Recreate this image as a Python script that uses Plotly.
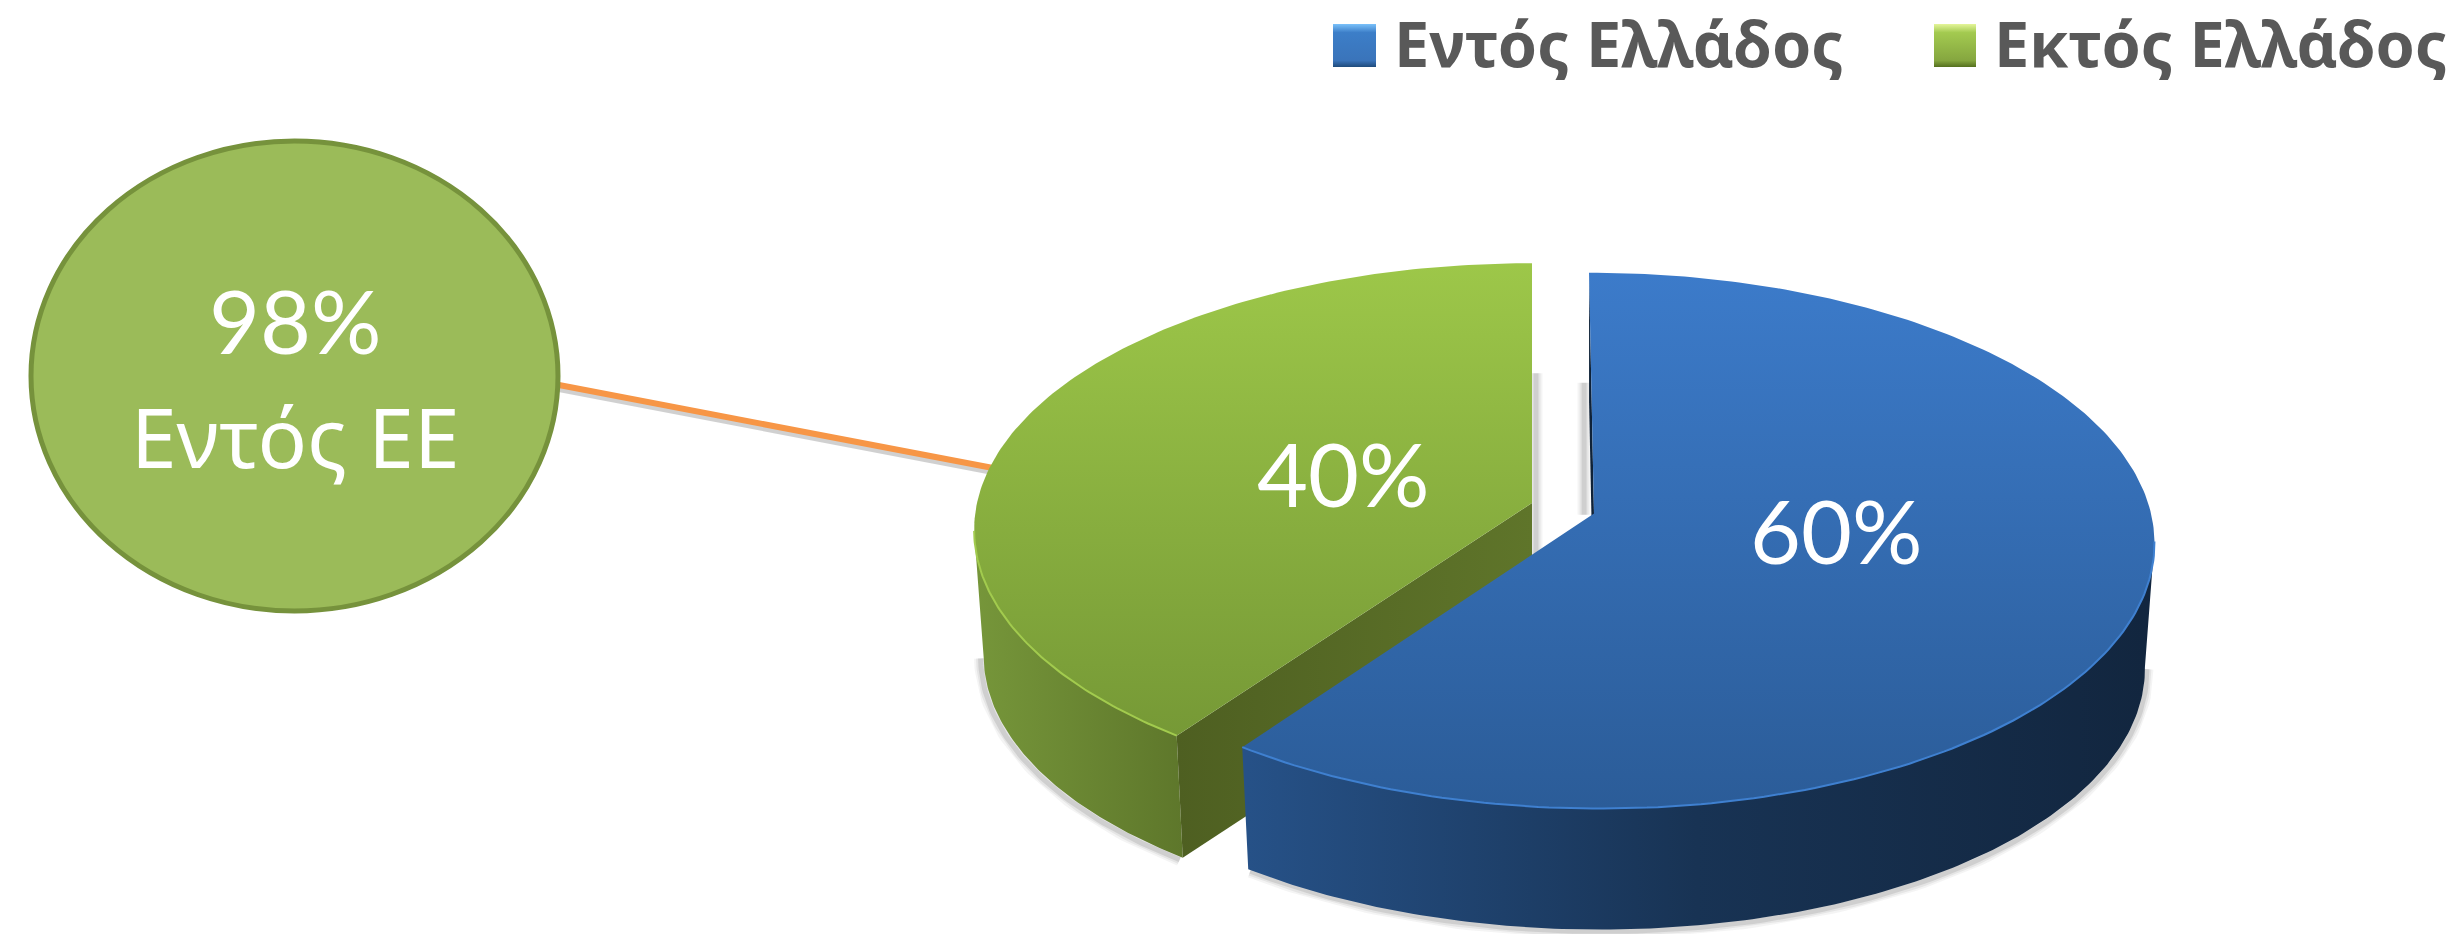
import numpy as np
import plotly.graph_objects as go

# ---- data
categories = ["Εντός Ελλάδος", "Εκτός Ελλάδος"]
shares = [60, 40]
callout_value = 98
callout_label = "Εντός ΕΕ"

# ---- styling
W, H = 2463, 934
FONT = "Noto Sans"
NUM_FONT = "Lato"
DEPTH, SHRINK, PERSP = 126.0, 0.983, 0.1012
geo = {
    "Εντός Ελλάδος": dict(cx=1594.0, cy=513.5, skew=-5.5, hs=557.0, vs=-265.2),
    "Εκτός Ελλάδος": dict(cx=1532.0, cy=503.0, skew=0.0, hs=555.0, vs=-264.0),
}
look = {
    "Εντός Ελλάδος": dict(
        top=["#3C7BCA", "#2B5C98"], side=["#265187", "#183354", "#12263F"],
        face="#0F2238", rim="#3F80D0",
        swatch=[[0, "#7AC1FA"], [.2, "#3C7EC8"], [.85, "#3A74BA"], [1, "#1F4B7C"]]),
    "Εκτός Ελλάδος": dict(
        top=["#9DC749", "#769936"], side=["#76963A", "#5E772B"],
        face=["#4E5F21", "#5F752A"], rim="#A2CB4E",
        swatch=[[0, "#E4F59A"], [.2, "#A3CA50"], [.85, "#85A63F"], [1, "#55701F"]]),
}


def rim(name, theta_deg, lower=False):
    """Perspective-projected point of the pie's rim, theta clockwise from 12 o'clock."""
    g = geo[name]
    t = np.radians(np.asarray(theta_deg, dtype=float))
    u, v = np.sin(t), np.cos(t)
    den = 1 + PERSP * v
    dx = (g["hs"] * u + g["skew"] * v) / den
    dy = (g["vs"] * v) / den
    if lower:
        return g["cx"] + SHRINK * dx, g["cy"] + DEPTH + SHRINK * dy
    return g["cx"] + dx, g["cy"] + dy


def scale(cols):
    n = len(cols) - 1
    return [[i / n, c] for i, c in enumerate(cols)]


def poly(xs, ys, **kw):
    return go.Scatter(x=list(xs), y=list(ys), mode="lines", fill="toself",
                      line=dict(width=0), hoverinfo="skip", showlegend=False, **kw)


def stroke(xs, ys, color, width):
    return go.Scatter(x=list(xs), y=list(ys), mode="lines", line=dict(color=color, width=width),
                      hoverinfo="skip", showlegend=False)


fig = go.Figure()

blue, green = categories
edges = np.cumsum([0] + shares) / sum(shares) * 360
b0, b1 = edges[0], edges[1]
g0, g1 = edges[1], edges[2]
G_TAN, B_TAN = 264.0, 96.0   # where the side wall's silhouette leaves the rim

# soft shadows under the lower edges
for width, alpha in [(13, .06), (9, .08), (5, .13)]:
    col = f"rgba(60,60,60,{alpha})"
    th = np.linspace(g0, G_TAN, 60)
    x, y = rim(green, th, True)
    fig.add_trace(stroke(x - 3, y + 2, col, width))
    th = np.linspace(B_TAN, b1, 120)
    x, y = rim(blue, th, True)
    fig.add_trace(stroke(x + 2, y + 2, col, width))
    # the shadow beside the gap
    gx, gy = rim(green, g1, True)
    fig.add_trace(stroke([gx + 4, gx + 4], [gy - 20, gy + 230], col, width))
    bx, by = rim(blue, b0, True)
    fig.add_trace(stroke([bx - 5, bx - 5], [by - 20, by + 112], col, width))

# green slice
th = np.linspace(g0, G_TAN, 80)
xt, yt = rim(green, th)
xb, yb = rim(green, th, True)
fig.add_trace(poly(np.r_[xt, xb[::-1]], np.r_[yt, yb[::-1]],
                   fillgradient=dict(type="horizontal", colorscale=scale(look[green]["side"]),
                                     start=float(xb.min()) - 8, stop=float(xb[0]))))
ax, ay = geo[green]["cx"], geo[green]["cy"]
rx, ry = rim(green, g0)
rbx, rby = rim(green, g0, True)
fig.add_trace(poly([rx, ax, ax, rbx], [ry, ay, ay + DEPTH, rby],
                   fillgradient=dict(type="horizontal", colorscale=scale(look[green]["face"]),
                                     start=float(rx), stop=float(ax))))
th = np.linspace(g0, g1, 160)
xt, yt = rim(green, th)
fig.add_trace(poly(np.r_[ax, xt], np.r_[ay, yt],
                   fillgradient=dict(type="vertical", colorscale=scale(look[green]["top"]),
                                     start=float(yt.min()), stop=float(yt.max()))))
th = np.linspace(g0, G_TAN, 80)
xt, yt = rim(green, th)
fig.add_trace(stroke(xt, yt, look[green]["rim"], 2))

# blue slice
ax, ay = geo[blue]["cx"], geo[blue]["cy"]
rx, ry = rim(blue, b0)
rbx, rby = rim(blue, b0, True)
fig.add_trace(poly([rx, rbx, ax, ax], [ry, rby, ay + DEPTH, ay], fillcolor=look[blue]["face"]))
th = np.linspace(B_TAN, b1, 160)
xt, yt = rim(blue, th)
xb, yb = rim(blue, th, True)
fig.add_trace(poly(np.r_[xt, xb[::-1]], np.r_[yt, yb[::-1]],
                   fillgradient=dict(type="horizontal", colorscale=scale(look[blue]["side"]),
                                     start=float(xb.min()), stop=float(xb.max()))))
th = np.linspace(b0, b1, 240)
xt, yt = rim(blue, th)
fig.add_trace(poly(np.r_[ax, xt], np.r_[ay, yt],
                   fillgradient=dict(type="vertical", colorscale=scale(look[blue]["top"]),
                                     start=float(yt.min()), stop=float(yt.max()))))
th = np.linspace(B_TAN, b1, 120)
xt, yt = rim(blue, th)
fig.add_trace(stroke(xt, yt, look[blue]["rim"], 2))

# legend swatches and labels
sw_x = {blue: (1333, 1376), green: (1934, 1976)}
lab_x = {blue: 1392, green: 1992}
for name in categories:
    x0, x1 = sw_x[name]
    fig.add_trace(poly([x0, x1, x1, x0], [24, 24, 67, 67],
                       fillgradient=dict(type="vertical", colorscale=look[name]["swatch"],
                                         start=24, stop=67)))
    fig.add_annotation(x=lab_x[name], y=42, text=f"<b>{name}</b>", showarrow=False, xanchor="left",
                       yanchor="middle", font=dict(family=FONT, size=63, color="#595959"))

# slice labels
for name, val, lx, ly in zip(categories, shares, (1836, 1343), (530, 473)):
    fig.add_annotation(x=lx, y=ly, text=f"{val}%", showarrow=False,
                       font=dict(family=NUM_FONT, size=88, color="white"))

# callout
fig.add_shape(type="line", x0=559, y0=389, x1=993, y1=472, layer="below",
              line=dict(color="rgba(120,120,120,.35)", width=6))
fig.add_shape(type="line", x0=559, y0=385, x1=993, y1=468, layer="below",
              line=dict(color="#F79646", width=6))
fig.add_shape(type="circle", x0=31, y0=141, x1=558, y1=611, layer="below",
              fillcolor="#9BBB59", line=dict(color="#76923C", width=5))
fig.add_annotation(x=295, y=320, text=f"{callout_value}%", showarrow=False,
                   font=dict(family=NUM_FONT, size=88, color="white"))
fig.add_annotation(x=295, y=436, text=callout_label, showarrow=False,
                   font=dict(family=FONT, size=82, color="white"))

fig.update_layout(
    width=W, height=H, margin=dict(l=0, r=0, t=0, b=0), autosize=False,
    paper_bgcolor="white", plot_bgcolor="white", showlegend=False,
    xaxis=dict(range=[0, W], visible=False, fixedrange=True),
    yaxis=dict(range=[H, 0], visible=False, fixedrange=True),
)
fig.write_html("out.html", post_script="document.body.style.margin='0';",
               config=dict(displayModeBar=False))
